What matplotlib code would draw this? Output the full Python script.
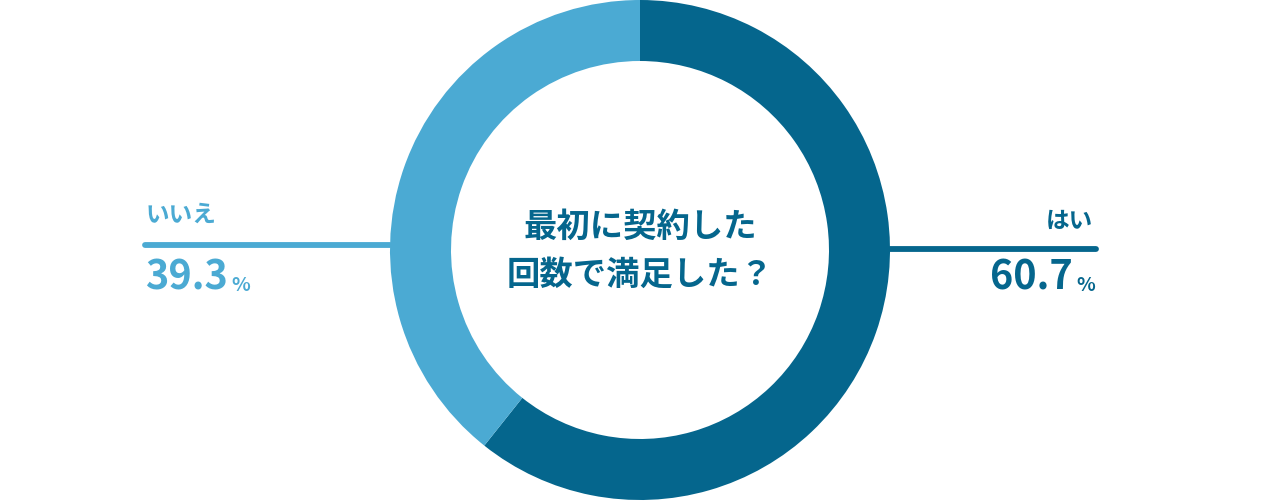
import matplotlib
matplotlib.use("Agg")
import matplotlib.pyplot as plt

plt.rcParams['font.family'] = ['Noto Sans CJK JP', 'DejaVu Sans']

labels = ["はい", "いいえ"]
values = [60.7, 39.3]
colors = ["#05668d", "#4baad3"]
title_lines = ["最初に契約した", "回数で満足した？"]

fig = plt.figure(figsize=(12.8, 5.02), dpi=100)
ax = fig.add_axes([0, 0, 1, 1])

cx, cy, r = 640, 251, 250
# y axis is flipped below, so start at -90 and go counterclockwise to get top/clockwise on screen
ax.pie(values, colors=colors, startangle=-90, counterclock=True,
       center=(cx, cy), radius=r, wedgeprops=dict(width=61, linewidth=0))
ax.set_xlim(0, 1280)
ax.set_ylim(502, 0)
ax.set_aspect("equal")
ax.axis("off")

# leader lines
ax.plot([1096, 890], [250, 250], color=colors[0], lw=4.2, solid_capstyle="round")
ax.plot([145, 390], [246, 246], color=colors[1], lw=4.2, solid_capstyle="round")

# right label
ax.text(1093, 221, labels[0], color=colors[0], fontsize=17, fontweight="bold",
        ha="right", va="center")
ax.text(1073, 290, f"{values[0]:.1f}", color=colors[0], fontsize=28.5, fontweight="bold",
        ha="right", va="baseline")
ax.text(1095, 291, "%", color=colors[0], fontsize=14, fontweight="bold",
        ha="right", va="baseline")

# left label
ax.text(146, 215, labels[1], color=colors[1], fontsize=17, fontweight="bold",
        ha="left", va="center")
ax.text(145, 290, f"{values[1]:.1f}", color=colors[1], fontsize=28.5, fontweight="bold",
        ha="left", va="baseline")
ax.text(231, 291, "%", color=colors[1], fontsize=14, fontweight="bold",
        ha="left", va="baseline")

# centre text
ax.text(cx, 227, title_lines[0], color=colors[0], fontsize=24, fontweight="bold",
        ha="center", va="center")
ax.text(cx, 275, title_lines[1], color=colors[0], fontsize=24, fontweight="bold",
        ha="center", va="center")

fig.savefig("out.png", dpi=100)
